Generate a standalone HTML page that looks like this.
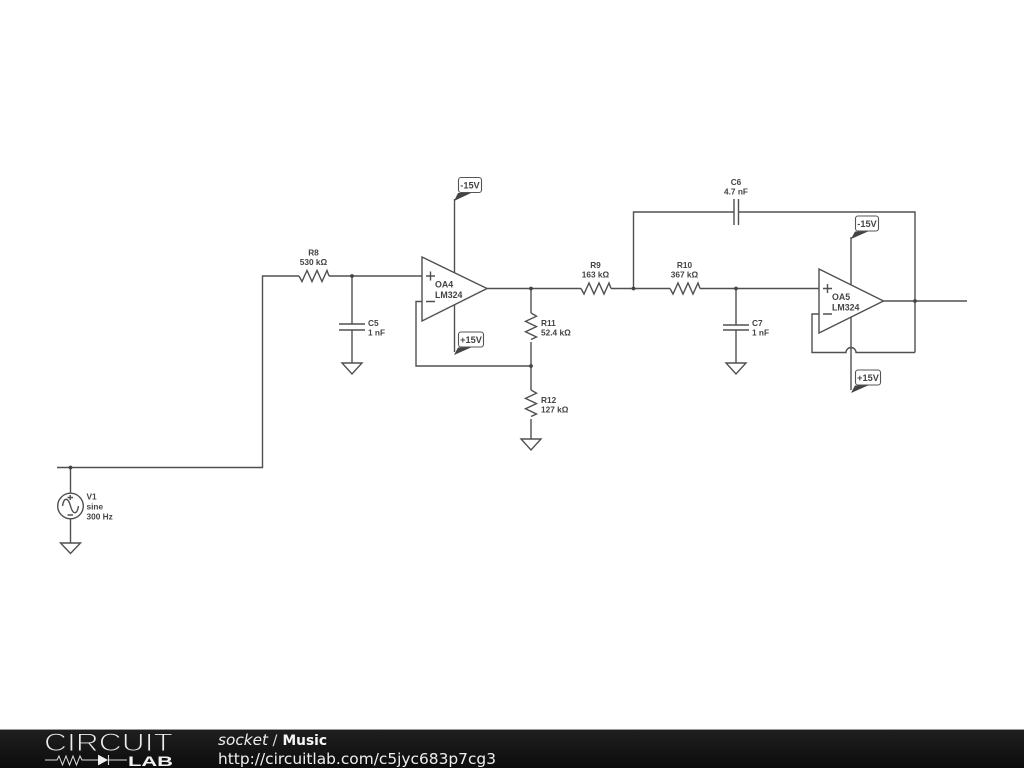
<!DOCTYPE html>
<html>
<head>
<meta charset="utf-8">
<style>
html,body{margin:0;padding:0;background:#fff;width:1024px;height:768px;overflow:hidden}
svg{display:block;position:absolute;left:0;top:0;filter:blur(0.3px)}
.w{fill:none;stroke:#505050;stroke-width:1.4}
.f{fill:#444}
.l text{font-family:"Liberation Sans",sans-serif;font-weight:bold;font-size:8.3px;fill:#444}
.l .oa text{font-size:8.8px}
.tag rect{fill:#fff;stroke:#555;stroke-width:1.1}
.l .tag text{font-size:9.2px}
</style>
</head>
<body>
<svg width="1024" height="768" viewBox="0 0 1024 768" xmlns="http://www.w3.org/2000/svg">
<defs>
<linearGradient id="bar" x1="0" y1="0" x2="0" y2="1"><stop offset="0" stop-color="#1f1f1f"/><stop offset="1" stop-color="#0c0c0c"/></linearGradient>
</defs>
<rect width="1024" height="768" fill="#fff"/>

<g class="w">
<!-- input -->
<path d="M57 467.500H262.500V276H299"/>
<path d="M299 276l3 5.500 5-11 5 11 5-11 5 11 5-11 2 5.500"/>
<path d="M329 276H422"/>
<path d="M352 276V324M339 324H365M339 330H365M352 330V363M342 363H362L352 374Z"/>
<!-- OA4 -->
<path d="M422 257L487 288.500L422 321Z"/>
<path d="M426 276H435M430.500 271.500V280.500M426 301.500H435"/>
<path d="M454.500 273V199M454.500 305V352"/>
<path d="M422 301.500H416V366H531"/>
<!-- node -->
<path d="M487 288.500H581"/>
<path d="M531 288.500V313"/>
<path d="M531 313l5.500 3.200-11 5.200 11 5.200-11 5.200 11 5.200-5.500 2.500"/>
<path d="M531 342V390"/>
<path d="M531 390l5.500 3.200-11 5.200 11 5.200-11 5.200 11 5.200-5.500 2.500"/>
<path d="M531 419V439M521 439H541L531 450Z"/>
<!-- R9 R10 -->
<path d="M581 288.500l3 5.500 5-11 5 11 5-11 5 11 5-11 2 5.500"/>
<path d="M611 288.500H670"/>
<path d="M670 288.500l3 5.500 5-11 5 11 5-11 5 11 5-11 2 5.500"/>
<path d="M700 288.500H819"/>
<path d="M736 288.500V325M723 325H749M723 330H749M736 330V363M726 363H746L736 374Z"/>
<!-- C6 -->
<path d="M633.500 288.500V212H734M734 199V225M738.500 199V225M738.500 212H915V352.500"/>
<!-- OA5 -->
<path d="M819 269L883.500 301L819 333Z"/>
<path d="M823 288.500H832M827.500 284V293M823 314H832"/>
<path d="M851 285V237M851 317V390"/>
<path d="M819 314H812V352.500H846A5 5 0 0 1 856 352.500H915"/>
<path d="M883.500 301H967"/>
<!-- V1 -->
<path d="M70.500 467.500V493M70.500 519V543M60.500 543H80.500L70.500 553.500Z"/>
<circle cx="70.500" cy="506" r="12.800"/>
<path d="M62.500 506C64 497 68 497 70.500 506S77 515 78.500 506"/>
<path d="M67.500 497.500H73M70.200 495V500M67.500 515H73"/>
</g>

<g class="f">
<circle cx="352" cy="276" r="1.900"/>
<circle cx="531" cy="288.500" r="1.900"/>
<circle cx="531" cy="366" r="1.900"/>
<circle cx="633.500" cy="288.500" r="1.900"/>
<circle cx="736" cy="288.500" r="1.900"/>
<circle cx="915" cy="301" r="1.900"/>
<circle cx="70.500" cy="467.500" r="1.900"/>
</g>

<g class="l">
<g class="tag">
<rect x="458.500" y="177.500" width="23" height="15" rx="2.500"/><text x="470" y="188.500" text-anchor="middle">-15V</text>
<rect x="458.500" y="332" width="25" height="15" rx="2.500"/><text x="471" y="343" text-anchor="middle">+15V</text>
<rect x="855.500" y="216" width="23" height="15" rx="2.500"/><text x="867" y="227" text-anchor="middle">-15V</text>
<rect x="855.500" y="370" width="25" height="15" rx="2.500"/><text x="868" y="381" text-anchor="middle">+15V</text>
</g>
<g text-anchor="middle">
<text x="313.500" y="255.500">R8</text><text x="313.500" y="265">530 kΩ</text>
<text x="595.500" y="268">R9</text><text x="595.500" y="277.500">163 kΩ</text>
<text x="684.500" y="268">R10</text><text x="684.500" y="277.500">367 kΩ</text>
<text x="736" y="185">C6</text><text x="736" y="194.500">4.7 nF</text>
</g>
<text x="368" y="326">C5</text><text x="368" y="335.500">1 nF</text>
<text x="752" y="326">C7</text><text x="752" y="335.500">1 nF</text>
<text x="541" y="326">R11</text><text x="541" y="335.500">52.4 kΩ</text>
<text x="541" y="403">R12</text><text x="541" y="412.500">127 kΩ</text>
<text x="86.500" y="499.500">V1</text><text x="86.500" y="509.500">sine</text><text x="86.500" y="519.500">300 Hz</text>
<g class="oa">
<text x="435" y="287.500">OA4</text><text x="435" y="298">LM324</text>
<text x="832" y="300">OA5</text><text x="832" y="310.500">LM324</text>
</g>
</g>

<g class="f">
<path d="M454 201L458 193H471Z"/>
<path d="M454 355L458 347.500H471Z"/>
<path d="M851 239L855 231.500H868Z"/>
<path d="M851 393L855 385.500H868Z"/>
</g>

<!-- footer -->
<rect x="0" y="729" width="1024" height="39" fill="url(#bar)"/>
<rect x="0" y="729" width="1024" height="1" fill="#999"/>
<text x="44" y="751" font-family="'Liberation Sans',sans-serif" font-size="25" fill="#eee" stroke="#1a1a1a" stroke-width="1" style="paint-order:fill stroke" textLength="129" lengthAdjust="spacingAndGlyphs">CIRCUIT</text>
<path d="M45 760H57l2-4 3.500 9 3.500-9 3.500 9 3.500-9 3.500 9 3.500-9 2 4H98" fill="none" stroke="#ddd" stroke-width="1"/>
<path d="M98.500 755.500V764.500L107 760Z" fill="#f0f0f0" stroke="#f0f0f0" stroke-width="1"/>
<path d="M108.500 755V765M108 760H127" fill="none" stroke="#ddd" stroke-width="1.100"/>
<text x="128" y="766" font-family="'Liberation Sans',sans-serif" font-weight="bold" font-size="14" fill="#f2f2f2" textLength="45" lengthAdjust="spacingAndGlyphs">LAB</text>
<text x="218" y="745" font-family="'DejaVu Sans',sans-serif" font-size="15" font-style="italic" fill="#eee" textLength="50" lengthAdjust="spacingAndGlyphs">socket</text>
<text x="272.500" y="745" font-family="'DejaVu Sans',sans-serif" font-size="14.500" fill="#ddd">/</text>
<text x="282.500" y="745" font-family="'DejaVu Sans',sans-serif" font-size="14.500" font-weight="bold" fill="#f5f5f5" textLength="44.500" lengthAdjust="spacingAndGlyphs">Music</text>
<text x="218" y="764" font-family="'DejaVu Sans',sans-serif" font-size="15.500" fill="#eee" textLength="278" lengthAdjust="spacingAndGlyphs">http://circuitlab.com/c5jyc683p7cg3</text>
</svg>
</body>
</html>
